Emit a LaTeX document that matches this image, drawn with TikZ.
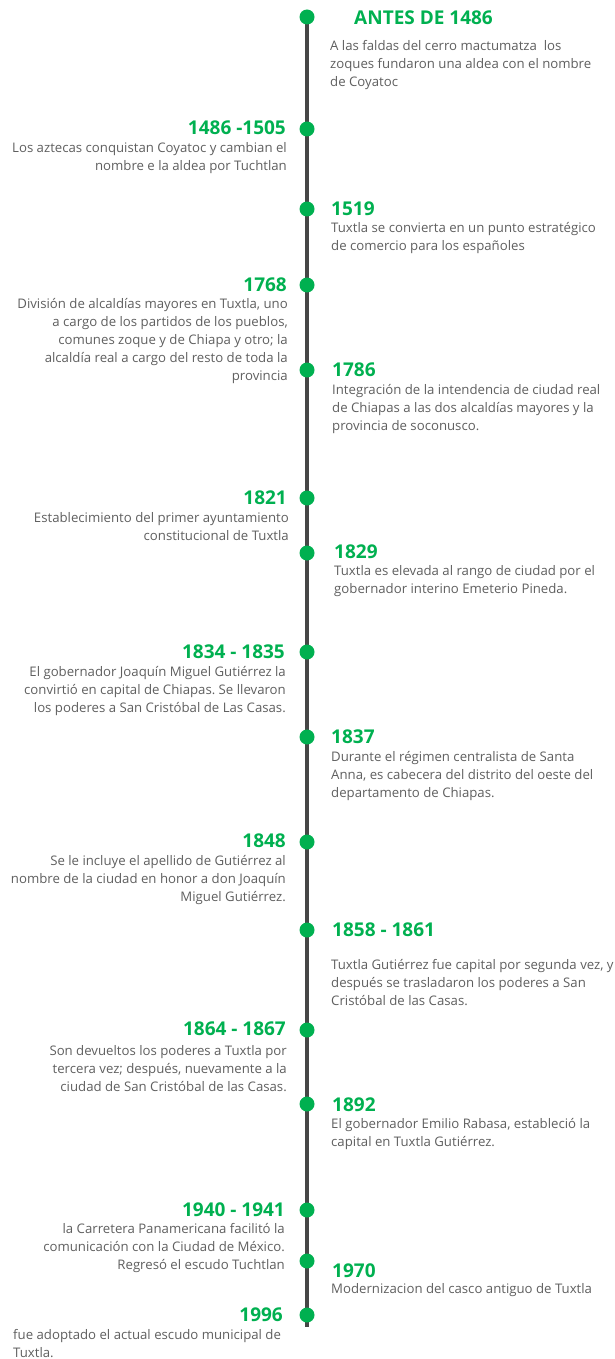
\documentclass[tikz,border=0pt]{standalone}
\usepackage{fontspec}
\setmainfont{Open Sans}
\frenchspacing
\usetikzlibrary{backgrounds}
\definecolor{tlgreen}{RGB}{0,176,80}
\definecolor{tltext}{RGB}{95,95,95}
\definecolor{tlline}{RGB}{70,70,70}
\tikzset{
  dot/.style={circle,fill=tlgreen,draw=none,minimum size=15pt,inner sep=0pt},
  spine/.style={draw=tlline,line width=3.5pt},
  yearL/.style={anchor=east,inner sep=0pt,text=tlgreen,font=\fontsize{19}{22}\selectfont\bfseries},
  yearR/.style={anchor=west,inner sep=0pt,text=tlgreen,font=\fontsize{19}{22}\selectfont\bfseries},
  bodyL/.style={anchor=east,inner sep=0pt,align=right,text=tltext,font=\fontsize{13.2}{18}\selectfont\frenchspacing},
  bodyR/.style={anchor=west,inner sep=0pt,align=left,text=tltext,font=\fontsize{13.2}{18}\selectfont\frenchspacing},
}
\begin{document}
\begin{tikzpicture}[x=1pt,y=-1pt]
\useasboundingbox (0,0) rectangle (614,1359);
% dots
\node[dot] (d1) at (307,17) {};
\node[dot] (d2) at (307,129) {};
\node[dot] (d3) at (307,209) {};
\node[dot] (d4) at (307,285) {};
\node[dot] (d5) at (307,370) {};
\node[dot] (d6) at (307,498) {};
\node[dot] (d7) at (307,553) {};
\node[dot] (d8) at (307,652) {};
\node[dot] (d9) at (307,737) {};
\node[dot] (d10) at (307,842) {};
\node[dot] (d11) at (307,930) {};
\node[dot] (d12) at (307,1030) {};
\node[dot] (d13) at (307,1104) {};
\node[dot] (d14) at (307,1210) {};
\node[dot] (d15) at (307,1261) {};
\node[dot] (d16) at (307,1315) {};
\coordinate (spineend) at (307,1327);
\begin{scope}[on background layer]
\draw[spine] (d1.center) -- (spineend);
\end{scope}
% ANTES DE 1486
\node[yearR] (y1) at (354,18) {ANTES DE 1486};
\node[bodyR] (t1) at (330,65) {A las faldas del cerro mactumatza\ \ los\\zoques fundaron una aldea con el nombre\\de Coyatoc};
% 1486 -1505
\node[yearL] (y2) at (286,128) {1486 -1505};
\node[bodyL] (t2) at (287,158.5) {Los aztecas conquistan Coyatoc y cambian el\\nombre e la aldea por Tuchtlan};
% 1519
\node[yearR] (y3) at (331,209) {1519};
\node[bodyR] (t3) at (331,238) {Tuxtla se convierta en un punto estratégico\\de comercio para los españoles};
% 1768
\node[yearL] (y4) at (287,285) {1768};
\node[bodyL] (t4) at (288,341) {División de alcaldías mayores en Tuxtla, uno\\a cargo de los partidos de los pueblos,\\comunes zoque y de Chiapa y otro; la\\alcaldía real a cargo del resto de toda la\\provincia};
% 1786
\node[yearR] (y5) at (332,370) {1786};
\node[bodyR] (t5) at (332,409) {Integración de la intendencia de ciudad real\\de Chiapas a las dos alcaldías mayores y la\\provincia de soconusco.};
% 1821
\node[yearL] (y6) at (287,498) {1821};
\node[bodyL] (t6) at (289,526.5) {Establecimiento del primer ayuntamiento\\constitucional de Tuxtla};
% 1829
\node[yearR] (y7) at (334,552) {1829};
\node[bodyR] (t7) at (334,581.5) {Tuxtla es elevada al rango de ciudad por el\\gobernador interino Emeterio Pineda.};
% 1834 - 1835
\node[yearL] (y8) at (285,652) {1834 - 1835};
\node[bodyL] (t8) at (286,691) {El gobernador Joaquín Miguel Gutiérrez la\\convirtió en capital de Chiapas. Se llevaron\\los poderes a San Cristóbal de Las Casas.};
% 1837
\node[yearR] (y9) at (331,737) {1837};
\node[bodyR] (t9) at (331,776) {Durante el régimen centralista de Santa\\Anna, es cabecera del distrito del oeste del\\departamento de Chiapas.};
% 1848
\node[yearL] (y10) at (286,841) {1848};
\node[bodyL] (t10) at (286,880) {Se le incluye el apellido de Gutiérrez al\\nombre de la ciudad en honor a don Joaquín\\Miguel Gutiérrez.};
% 1858 - 1861
\node[yearR] (y11) at (332,930) {1858 - 1861};
\node[bodyR] (t11) at (331,983) {Tuxtla Gutiérrez fue capital por segunda vez, y\\después se trasladaron los poderes a San\\Cristóbal de las Casas.};
% 1864 - 1867
\node[yearL] (y12) at (286,1029) {1864 - 1867};
\node[bodyL] (t12) at (287,1069) {Son devueltos los poderes a Tuxtla por\\tercera vez; después, nuevamente a la\\ciudad de San Cristóbal de las Casas.};
% 1892
\node[yearR] (y13) at (332,1105) {1892};
\node[bodyR] (t13) at (331,1134) {El gobernador Emilio Rabasa, estableció la\\capital en Tuxtla Gutiérrez.};
% 1940 - 1941
\node[yearL] (y14) at (285,1210) {1940 - 1941};
\node[bodyL] (t14) at (285,1248) {la Carretera Panamericana facilitó la\\comunicación con la Ciudad de México.\\Regresó el escudo Tuchtlan};
% 1970
\node[yearR] (y15) at (332,1271) {1970};
\node[bodyR] (t15) at (331,1290.5) {Modernizacion del casco antiguo de Tuxtla};
% 1996
\node[yearL] (y16) at (283,1315) {1996};
\node[bodyR] (t16) at (13,1344) {fue adoptado el actual escudo municipal de\\Tuxtla.};
\end{tikzpicture}
\end{document}
